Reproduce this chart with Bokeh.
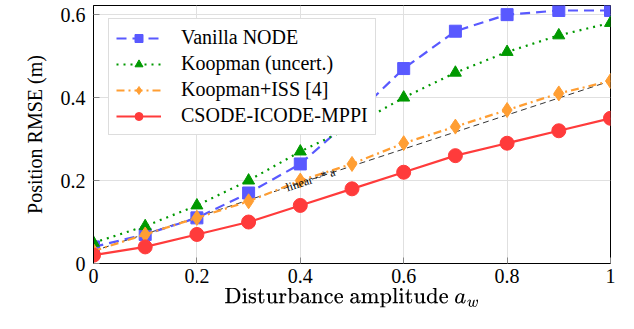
import numpy as np
from bokeh.plotting import figure
from bokeh.models import Range1d, FixedTicker, Label, Legend
from bokeh.embed import file_html
from bokeh.resources import INLINE

# ---- data ----
amplitude = [0.0, 0.1, 0.2, 0.3, 0.4, 0.5, 0.6, 0.7, 0.8, 0.9, 1.0]
vanilla_node = [0.04, 0.07, 0.11, 0.17, 0.24, 0.35, 0.47, 0.56, 0.60, 0.61, 0.61]
koopman_uncert = [0.05, 0.09, 0.14, 0.20, 0.27, 0.33, 0.40, 0.46, 0.51, 0.55, 0.58]
koopman_iss = [0.03, 0.07, 0.11, 0.15, 0.20, 0.24, 0.29, 0.33, 0.37, 0.41, 0.44]
csode = [0.02, 0.04, 0.07, 0.10, 0.14, 0.18, 0.22, 0.26, 0.29, 0.32, 0.35]
linear_x = [0.0, 1.0]
linear_y = [0.03, 0.44]
x_ticks = [0, 0.2, 0.4, 0.6, 0.8, 1.0]
x_tick_labels = ["0", "0.2", "0.4", "0.6", "0.8", "1"]
y_ticks = [0, 0.2, 0.4, 0.6]
y_tick_labels = ["0", "0.2", "0.4", "0.6"]

FONT = "Liberation Serif"

p = figure(width=618, height=313, output_backend="svg", toolbar_location=None,
           x_range=Range1d(0, 1), y_range=Range1d(0, 0.622),
           min_border_left=93, min_border_right=8, min_border_top=5, min_border_bottom=50)

p.outline_line_color = "black"
p.outline_line_width = 1
p.background_fill_color = "white"
p.border_fill_color = "white"

for ax in (p.xaxis[0], p.yaxis[0]):
    ax.major_tick_in = 6
    ax.major_tick_out = 0
    ax.minor_tick_line_color = None
    ax.major_tick_line_color = "#888888"
    ax.axis_line_color = "black"
    ax.major_label_text_font = FONT
    ax.major_label_text_font_size = "20px"
    ax.major_label_text_color = "black"
    ax.axis_label_text_font = FONT
    ax.axis_label_text_font_size = "20px"
    ax.axis_label_text_font_style = "normal"
    ax.axis_label_text_color = "black"

p.xaxis[0].ticker = FixedTicker(ticks=x_ticks)
p.xaxis[0].major_label_overrides = {t: l for t, l in zip(x_ticks, x_tick_labels)}
p.yaxis[0].ticker = FixedTicker(ticks=y_ticks)
p.yaxis[0].major_label_overrides = {t: l for t, l in zip(y_ticks, y_tick_labels)}
p.xaxis[0].axis_label = r"Disturbance amplitude \(a_w\)"
p.yaxis[0].axis_label = "Position RMSE (m)"
p.xaxis[0].major_label_standoff = 5
p.yaxis[0].major_label_standoff = 8
p.xaxis[0].axis_label_standoff = 2
p.yaxis[0].axis_label_standoff = 12

p.xgrid.ticker = FixedTicker(ticks=x_ticks)
p.ygrid.ticker = FixedTicker(ticks=y_ticks)
p.grid.grid_line_color = "#e0e0e0"
p.grid.grid_line_width = 1

BLUE = "#5959ff"
GREEN = "#009900"
ORANGE = "#ff9e33"
RED = "#ff3b3b"

p.line(linear_x, linear_y, line_color="black", line_width=0.8, line_dash="6 4")

r1 = p.line(amplitude, vanilla_node, line_color=BLUE, line_width=2.2, line_dash="10 6")
s1 = p.scatter(amplitude, vanilla_node, marker="square", size=12, fill_color=BLUE, line_color=BLUE)
r2 = p.line(amplitude, koopman_uncert, line_color=GREEN, line_width=2.2, line_dash="2 5")
s2 = p.scatter(amplitude, koopman_uncert, marker="triangle", size=12, fill_color=GREEN, line_color=GREEN)
r3 = p.line(amplitude, koopman_iss, line_color=ORANGE, line_width=2.2, line_dash="8 4 2 4")
s3 = p.scatter(amplitude, koopman_iss, marker="diamond", size=15, fill_color=ORANGE, line_color=ORANGE)
r4 = p.line(amplitude, csode, line_color=RED, line_width=2.2)
s4 = p.scatter(amplitude, csode, marker="circle", size=14, fill_color=RED, line_color=RED)

lbl_x = 0.42
lbl = Label(x=lbl_x, y=linear_y[0] + (linear_y[1] - linear_y[0]) * lbl_x, text="linear ~* a",
            angle=18.3, angle_units="deg",
            text_font=FONT, text_font_size="12px", text_align="center", text_baseline="middle",
            text_color="black")
p.add_layout(lbl)

legend = Legend(items=[("Vanilla NODE", [r1, s1]),
                       ("Koopman (uncert.)", [r2, s2]),
                       ("Koopman+ISS [4]", [r3, s3]),
                       ("CSODE-ICODE-MPPI", [r4, s4])],
                location=(15, 128))
legend.label_text_font = FONT
legend.label_text_font_size = "20px"
legend.label_text_color = "black"
legend.glyph_width = 45
legend.glyph_height = 20
legend.label_height = 20
legend.spacing = 3
legend.padding = 7
legend.margin = 0
legend.label_standoff = 20
legend.border_line_color = "#bbbbbb"
legend.border_line_width = 1
legend.background_fill_color = "white"
legend.background_fill_alpha = 1.0
p.add_layout(legend)

open("out.html", "w").write(file_html(p, INLINE))
